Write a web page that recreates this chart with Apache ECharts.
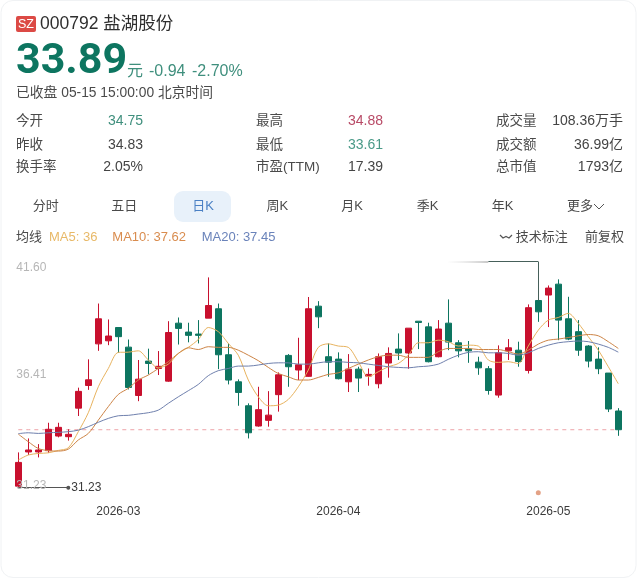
<!DOCTYPE html>
<html><head><meta charset="utf-8">
<style>html,body{margin:0;padding:0;background:#fff}#c{width:638px;height:580px}</style>
<script src="https://cdn.jsdelivr.net/npm/echarts@6/dist/echarts.min.js"></script>
</head><body><div id="c"></div>
<script>
const categories=['2026-02-06','2026-02-09','2026-02-10','2026-02-11','2026-02-12','2026-02-13','2026-02-24','2026-02-25','2026-02-26','2026-02-27',
'2026-03-02','2026-03-03','2026-03-04','2026-03-05','2026-03-06','2026-03-09','2026-03-10','2026-03-11','2026-03-12','2026-03-13',
'2026-03-16','2026-03-17','2026-03-18','2026-03-19','2026-03-20','2026-03-23','2026-03-24','2026-03-25','2026-03-26','2026-03-27',
'2026-03-30','2026-03-31','2026-04-01','2026-04-02','2026-04-03','2026-04-07','2026-04-08','2026-04-09','2026-04-10','2026-04-13',
'2026-04-14','2026-04-15','2026-04-16','2026-04-17','2026-04-20','2026-04-21','2026-04-22','2026-04-23','2026-04-24','2026-04-27',
'2026-04-28','2026-04-29','2026-04-30','2026-05-06','2026-05-07','2026-05-08','2026-05-11','2026-05-12','2026-05-13','2026-05-14','2026-05-15'];
const monthLabels=['2026-03-02','2026-04-01','2026-05-06'];
const yTicks=[31.23,36.41,41.60];
// [open, close, low, high]
const candles=[
[31.3,32.39,31.23,32.85],[32.87,32.96,32.73,33.49],[32.87,32.96,32.62,33.23],[32.93,33.91,32.83,34.21],[33.6,34.0,33.54,34.21],
[33.57,33.68,33.39,33.91],[34.88,35.65,34.52,35.82],[35.92,36.18,35.72,37.12],[37.83,38.98,37.51,39.68],[37.97,38.19,37.77,38.95],
[38.58,38.16,37.42,38.58],[37.68,35.83,35.74,38.03],[35.46,36.21,35.2,37.09],[37.04,36.93,36.43,37.61],[36.7,36.8,36.4,37.5],
[36.12,38.35,36.09,38.87],[38.78,38.54,37.8,39.04],[38.37,38.22,37.9,38.8],[38.28,38.22,37.85,38.92],[39.01,39.59,39.01,40.88],
[39.44,37.33,36.67,39.68],[37.33,36.17,35.97,37.85],[36.09,35.6,34.99,36.2],[34.99,33.75,33.49,35.1],[34.06,34.81,34.03,35.86],
[34.32,34.56,34.03,35.66],[35.5,36.41,34.72,36.52],[37.3,36.78,35.86,37.36],[36.63,36.87,36.17,38.11],[36.34,39.44,36.32,39.98],
[39.56,39.07,38.55,39.79],[37.24,36.99,36.32,37.85],[37.13,36.23,36.2,37.44],[36.09,36.67,35.62,37.36],[36.67,36.26,35.62,36.78],
[36.35,36.43,35.91,36.7],[36.0,37.24,35.79,37.39],[36.95,37.39,36.28,37.67],[37.59,37.41,37.09,38.31],[37.41,38.55,36.69,38.55],
[38.87,38.81,37.59,38.87],[38.61,37.01,36.98,38.8],[37.24,38.51,37.21,38.92],[38.78,37.91,37.54,39.87],[37.88,37.51,37.21,38.0],
[37.59,37.51,36.96,37.96],[36.99,36.73,36.41,37.24],[36.69,35.69,35.5,36.81],[35.48,37.42,35.36,37.76],[37.51,37.65,37.09,38.05],
[37.54,37.02,36.78,37.93],[36.61,39.49,36.47,39.64],[39.82,39.3,38.84,39.82],[40.07,40.39,38.6,40.51],[40.57,38.92,38.0,40.79],
[38.98,38.05,38.0,39.99],[38.39,37.54,37.28,38.92],[37.73,37.04,36.75,37.77],[37.13,36.69,36.44,37.67],[36.49,34.84,34.7,36.49],[34.75,33.89,33.61,34.88]];
const ma5=[32.50,32.73,32.80,32.83,32.94,33.06,33.80,34.67,35.86,36.70,37.44,37.45,37.51,37.09,36.73,36.90,37.39,37.67,38.03,38.58,
38.39,37.85,37.31,36.17,35.40,34.99,35.02,35.28,35.86,36.63,37.67,37.83,37.73,37.67,37.01,36.32,36.55,36.78,36.93,37.31,37.88,
37.88,38.0,37.93,37.73,37.77,37.73,37.09,36.98,37.01,36.93,37.73,38.46,38.92,39.04,39.23,38.77,38.16,37.54,36.78,36];
const ma10=[33.69,33.34,33.03,32.93,32.91,33.0,33.42,33.72,34.33,34.95,35.51,35.79,36.17,36.40,36.70,37.01,37.39,37.65,37.57,37.70,
37.67,37.67,37.54,37.31,37.06,36.75,36.47,36.32,36.17,36.17,36.29,36.43,36.50,36.70,36.90,37.09,37.24,37.31,37.31,37.21,37.21,
37.21,37.47,37.62,37.62,37.62,37.57,37.57,37.57,37.47,37.36,37.54,37.82,38.0,38.05,38.12,38.20,38.26,38.20,37.93,37.62];
const ma20=[33.71,33.75,33.72,33.75,33.77,33.80,33.87,34.03,34.23,34.41,34.53,34.55,34.61,34.67,34.79,35.10,35.40,35.68,35.97,36.37,
36.60,36.70,36.81,36.81,36.86,36.93,36.96,36.96,36.90,36.90,36.96,37.01,37.01,36.98,36.96,36.90,36.84,36.78,36.75,36.73,36.78,
36.81,36.90,37.12,37.31,37.44,37.47,37.42,37.42,37.39,37.31,37.42,37.62,37.77,37.88,37.93,37.96,37.93,37.82,37.67,37.45];
const lastClose=33.89, lowValue=31.23, topValue=41.60, peakBodyTop=39.82;
const lowEndCat='2026-02-13', peakCat='2026-04-30', peakFadeCat='2026-04-17', peakEdgeCat='2026-04-23', dotValue=31.0;

const F='"Liberation Sans","Noto Sans CJK SC",sans-serif';
const GREEN='#0d7560',RED='#c8102e';
function t(x,y,text,size,fill,align,extra){
  return {type:'text',x:x,y:y,z:10,silent:true,style:Object.assign({text:text,font:(size)+'px '+F,fill:fill,textAlign:align||'left',textVerticalAlign:'middle'},extra||{})};
}
const LBL='#4a4a4a',VAL='#444',SOFTG='#3f8f7d';
const graphics=[
 {type:'rect',z:0,silent:true,shape:{x:1,y:0.5,width:635,height:577,r:12},style:{fill:'#fff',stroke:'#f0f2f4',lineWidth:1}},
 {type:'rect',z:9,silent:true,shape:{x:16,y:16,width:20,height:16,r:2},style:{fill:'#dc4a45'}},
 t(26,24.5,'SZ',12.5,'#fff','center'),
 t(40,24,'000792 盐湖股份',17.5,'#2e2e2e'),
 {type:'text',x:16,y:62,z:10,silent:true,style:{text:'33.89',font:'bold 43px Roboto,'+F,fill:GREEN,textAlign:'left',textVerticalAlign:'middle'}},
 t(127,72,'元',16,SOFTG),
 t(149,72,'-0.94',16,SOFTG),
 t(192,72,'-2.70%',16,SOFTG),
 t(16,93,'已收盘 05-15 15:00:00 北京时间',13.8,LBL),
 t(16,121,'今开',13.5,LBL), t(143,121,'34.75',14,SOFTG,'right'),
 t(16,145,'昨收',13.5,LBL), t(143,145,'34.83',14,VAL,'right'),
 t(16,167,'换手率',13.5,LBL), t(143,167,'2.05%',14,VAL,'right'),
 t(256,121,'最高',13.5,LBL), t(383,121,'34.88',14,'#b84a66','right'),
 t(256,145,'最低',13.5,LBL), t(383,145,'33.61',14,'#4a9a88','right'),
 t(256,167,'市盈(TTM)',13.5,LBL), t(383,167,'17.39',14,VAL,'right'),
 t(496,121,'成交量',13.5,LBL), t(623,121,'108.36万手',14,VAL,'right'),
 t(496,145,'成交额',13.5,LBL), t(623,145,'36.99亿',14,VAL,'right'),
 t(496,167,'总市值',13.5,LBL), t(623,167,'1793亿',14,VAL,'right'),
 {type:'rect',z:9,silent:true,shape:{x:174,y:191,width:57,height:31,r:9},style:{fill:'#e8f1fa'}},
 t(45.7,206.5,'分时',13,LBL,'center'), t(124.3,206.5,'五日',13,LBL,'center'), t(203,206.5,'日K',13,'#4a80c4','center'),
 t(277.3,206.5,'周K',13,LBL,'center'), t(352,206.5,'月K',13,LBL,'center'), t(427.7,206.5,'季K',13,LBL,'center'),
 t(502.7,206.5,'年K',13,LBL,'center'), t(567,206.5,'更多',13,LBL),
 {type:'polyline',z:10,silent:true,shape:{points:[[594,204],[599,209],[604,204]]},style:{stroke:'#555',lineWidth:1,fill:null}},
 t(16,237.5,'均线',13,LBL),
 t(49,237.5,'MA5: 36',13,'#e8b968'),
 t(112.3,237.5,'MA10: 37.62',13,'#d98c4e'),
 t(201.7,237.5,'MA20: 37.45',13,'#6a83ba'),
 {type:'polyline',z:10,silent:true,shape:{points:[[500,235],[503,238],[506,236.5],[509,238],[512,235]]},style:{stroke:'#555',lineWidth:1.2,fill:null}},
 t(515.7,237.5,'技术标注',13,LBL),
 t(585,237.5,'前复权',13,LBL)
];
function lineS(name,data,color){return {name:name,type:'line',data:data,smooth:0.3,showSymbol:false,symbol:'none',z:3,lineStyle:{width:1,color:color},silent:true};}
const chart=echarts.init(document.getElementById('c'),null,{renderer:'canvas'});
chart.setOption({
 animation:false,backgroundColor:'#fff',
 graphic:graphics,
 grid:{left:13.3,right:14.7,top:261.7,bottom:92.3,containLabel:false},
 xAxis:{type:'category',data:categories,boundaryGap:true,axisLine:{show:false},axisTick:{show:false},splitLine:{show:false},
  axisLabel:{interval:function(i,v){return monthLabels.indexOf(v)>=0;},formatter:function(v){return v.slice(0,7);},color:'#3a3a3a',fontSize:12,fontFamily:F,margin:18,hideOverlap:false}},
 yAxis:{type:'value',min:lowValue,max:topValue,z:5,axisLine:{show:false},axisTick:{show:false},splitLine:{show:false},
  axisLabel:{inside:true,margin:3,customValues:yTicks,color:'#b6b6b6',fontSize:12,fontFamily:F,formatter:function(v){return v===lowValue?'{low|'+v.toFixed(2)+'}':v.toFixed(2);},
   rich:{low:{color:'#b6b6b6',fontSize:12,fontFamily:F,padding:[0,0,5,0]}},verticalAlignMinLabel:'middle',verticalAlignMaxLabel:'top'}},
 series:[
  {name:'prevClose',type:'line',data:categories.map(function(){return lastClose;}),showSymbol:false,symbol:'none',z:1,silent:true,lineStyle:{color:'#eda3a8',type:[4,4],width:1}},
  {type:'candlestick',data:candles,barWidth:7,z:2,silent:true,clip:false,
   itemStyle:{color:RED,color0:GREEN,borderColor:RED,borderColor0:GREEN,borderWidth:1},
   markLine:{silent:true,symbol:'none',animation:false,precision:2,label:{show:false},data:[
     [{coord:[categories[0],lowValue],symbol:'none',lineStyle:{color:'#555',type:'solid',width:1}},
      {coord:[lowEndCat,lowValue],symbol:'circle',symbolSize:4,label:{show:true,position:'end',formatter:'31.23',color:'#3a3a3a',fontSize:12,fontFamily:F,distance:3}}],
     [{coord:[peakCat,peakBodyTop],lineStyle:{color:'#46605a',type:'solid',width:1}},{coord:[peakCat,topValue]}],
     [{coord:[peakEdgeCat,topValue],lineStyle:{color:'#46605a',type:'solid',width:1}},{coord:[peakCat,topValue]}],
     [{coord:[peakFadeCat,topValue],lineStyle:{type:'solid',width:2,color:new echarts.graphic.LinearGradient(0,0,1,0,[{offset:0,color:'rgba(210,210,210,0)'},{offset:1,color:'rgba(170,170,170,0.7)'}])}},{coord:[peakEdgeCat,topValue]}]
   ]}},
  lineS('MA5',ma5,'#e8b35f'),
  lineS('MA10',ma10,'#cd8446'),
  lineS('MA20',ma20,'#6f80ad'),
  {type:'scatter',clip:false,data:[[peakCat,dotValue]],symbolSize:5,z:4,silent:true,itemStyle:{color:'#dc8a66'}}
 ]
});
</script></body></html>
